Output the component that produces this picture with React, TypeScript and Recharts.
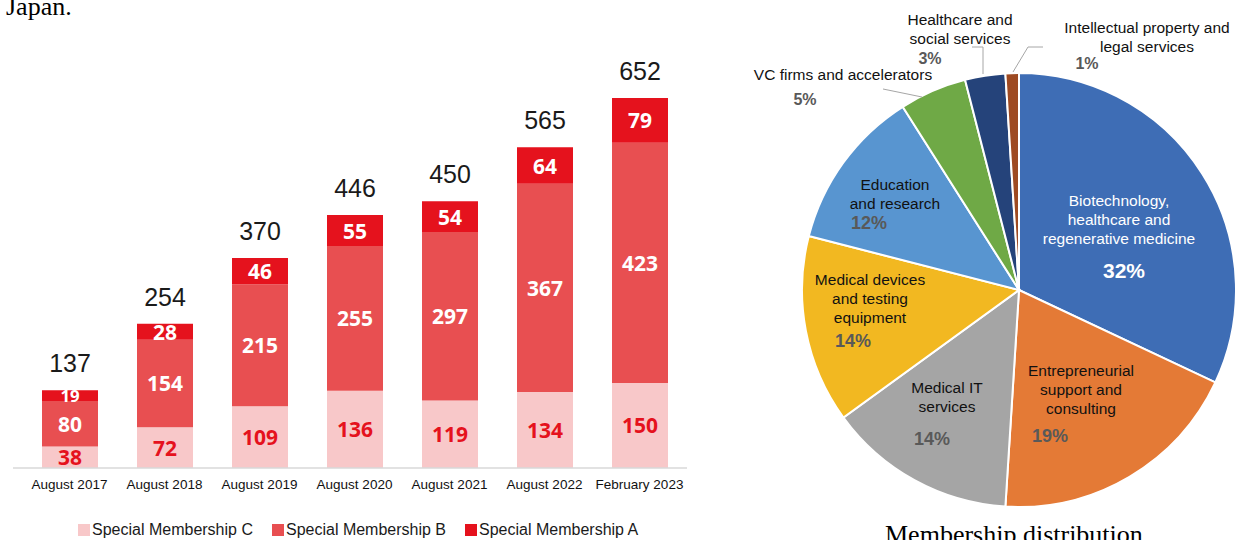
import React from "react";
import {
  BarChart,
  Bar,
  XAxis,
  YAxis,
  LabelList,
  PieChart,
  Pie,
  Cell,
} from "recharts";

// --- bar chart data ---
const PERIODS = [
  "August 2017",
  "August 2018",
  "August 2019",
  "August 2020",
  "August 2021",
  "August 2022",
  "February 2023",
];
const MEMBER_C = [38, 72, 109, 136, 119, 134, 150];
const MEMBER_B = [80, 154, 215, 255, 297, 367, 423];
const MEMBER_A = [19, 28, 46, 55, 54, 64, 79];
const TOTALS = [137, 254, 370, 446, 450, 565, 652];

// --- pie chart data ---
const SECTORS = [
  "Biotechnology,\nhealthcare and\nregenerative medicine",
  "Entrepreneurial\nsupport and\nconsulting",
  "Medical IT\nservices",
  "Medical devices\nand testing\nequipment",
  "Education\nand research",
  "VC firms and accelerators",
  "Healthcare and\nsocial services",
  "Intellectual property and\nlegal services",
];
const SHARES = [32, 19, 14, 14, 12, 5, 3, 1];

const BAR_COLORS = { c: "#F8C8C9", b: "#E84F51", a: "#E5121D" };
const PIE_COLORS = [
  "#3E6DB5",
  "#E47A36",
  "#A5A5A5",
  "#F2B821",
  "#5895D0",
  "#6FA946",
  "#25437A",
  "#9E4A22",
];

// label placement relative to pie centre (not data)
const PIE_LABEL_LAYOUT = [
  { nx: 100, ny: -90, px: 105, py: -20, fill: "#fff", pfill: "#fff", ps: 21 },
  { nx: 62, ny: 80, px: 31, py: 146, fill: "#111", pfill: "#595959", ps: 18 },
  { nx: -72, ny: 97, px: -87, py: 149, fill: "#111", pfill: "#595959", ps: 18 },
  { nx: -149, ny: -11, px: -166, py: 51, fill: "#111", pfill: "#595959", ps: 18 },
  { nx: -124, ny: -106, px: -150, py: -67, fill: "#111", pfill: "#595959", ps: 18 },
  { nx: -176, ny: -216, px: -214, py: -191, fill: "#111", pfill: "#595959", ps: 16,
    leader: [[-136, -201], [-97, -193]] },
  { nx: -59, ny: -271, px: -89, py: -232, fill: "#111", pfill: "#595959", ps: 16,
    leader: [[-47, -243], [-36, -243], [-36, -216]] },
  { nx: 128, ny: -263, px: 68, py: -227, fill: "#111", pfill: "#595959", ps: 16,
    leader: [[24, -243], [9, -243], [-6, -218]] },
];

const barData = PERIODS.map((period, i) => ({
  period,
  c: MEMBER_C[i],
  b: MEMBER_B[i],
  a: MEMBER_A[i],
  total: TOTALS[i],
}));

const pieData = SECTORS.map((name, i) => ({ name, value: SHARES[i] }));

/* eslint-disable @typescript-eslint/no-explicit-any */
const makeInnerLabel = (color: string) => (props: any) => {
  const { x, y, width, height, value } = props;
  const fs = Math.min(21, height + 6);
  return (
    <text
      x={x + width / 2}
      y={y + height / 2}
      textAnchor="middle"
      dominantBaseline="central"
      fill={color}
      fontFamily="'Noto Sans', sans-serif"
      fontWeight={700}
      fontSize={fs}
    >
      {value}
    </text>
  );
};

const renderPieLabel = (props: any) => {
  const { cx, cy, index } = props;
  const l = PIE_LABEL_LAYOUT[index];
  const lines = SECTORS[index].split("\n");
  return (
    <g key={`lbl-${index}`}>
      {l.leader && (
        <polyline
          points={l.leader.map(([dx, dy]) => `${cx + dx},${cy + dy}`).join(" ")}
          fill="none"
          stroke="#A6A6A6"
          strokeWidth={1}
        />
      )}
      <text
        textAnchor="middle"
        fill={l.fill}
        fontFamily="'Liberation Sans', Arial, sans-serif"
        fontSize={15.5}
      >
        {lines.map((ln, i) => (
          <tspan key={i} x={cx + l.nx} y={cy + l.ny + i * 19} dominantBaseline="central">
            {ln}
          </tspan>
        ))}
      </text>
      <text
        x={cx + l.px}
        y={cy + l.py}
        textAnchor="middle"
        dominantBaseline="central"
        fill={l.pfill}
        fontFamily="'Liberation Sans', Arial, sans-serif"
        fontWeight={700}
        fontSize={l.ps}
      >
        {SHARES[index]}%
      </text>
    </g>
  );
};
/* eslint-enable @typescript-eslint/no-explicit-any */

const LEGEND = [
  { label: "Special Membership C", color: BAR_COLORS.c },
  { label: "Special Membership B", color: BAR_COLORS.b },
  { label: "Special Membership A", color: BAR_COLORS.a },
];

export default function App() {
  return (
    <div
      style={{
        position: "fixed",
        left: 0,
        top: 0,
        width: 1235,
        height: 540,
        overflow: "hidden",
        background: "#fff",
      }}
    >
      <div
        style={{
          position: "absolute",
          left: 6,
          top: -6,
          fontFamily: "'Liberation Serif', 'Times New Roman', serif",
          fontSize: 26,
          lineHeight: "26px",
          color: "#000",
        }}
      >
        Japan.
      </div>

      <div style={{ position: "absolute", left: 0, top: 0 }}>
        <BarChart
          width={700}
          height={540}
          data={barData}
          margin={{ top: 98, right: 13, left: 13, bottom: 42 }}
        >
          <XAxis
            dataKey="period"
            height={30}
            padding={{ left: 9, right: 0 }}
            tickLine={false}
            tickMargin={5}
            axisLine={{ stroke: "#D9D9D9", strokeWidth: 1.5 }}
            interval={0}
            tick={{
              fontFamily: "'Liberation Sans', Arial, sans-serif",
              fontSize: 13.5,
              fill: "#111",
            }}
          />
          <YAxis hide domain={[0, 652]} />
          <Bar dataKey="c" stackId="m" fill={BAR_COLORS.c} barSize={56} isAnimationActive={false}>
            <LabelList dataKey="c" content={makeInnerLabel("#E5121D")} />
          </Bar>
          <Bar dataKey="b" stackId="m" fill={BAR_COLORS.b} barSize={56} isAnimationActive={false}>
            <LabelList dataKey="b" content={makeInnerLabel("#FFFFFF")} />
          </Bar>
          <Bar dataKey="a" stackId="m" fill={BAR_COLORS.a} barSize={56} isAnimationActive={false}>
            <LabelList dataKey="a" content={makeInnerLabel("#FFFFFF")} />
            <LabelList
              dataKey="total"
              position="top"
              offset={18}
              fill="#1A1A1A"
              fontFamily="'Liberation Sans', Arial, sans-serif"
              fontSize={25}
            />
          </Bar>
        </BarChart>
      </div>

      <div
        style={{
          position: "absolute",
          left: 78,
          top: 521,
          display: "flex",
          fontFamily: "'Liberation Sans', Arial, sans-serif",
          fontSize: 16,
          color: "#1A1A1A",
          lineHeight: "18px",
        }}
      >
        {LEGEND.map((it) => (
          <div key={it.label} style={{ display: "flex", alignItems: "center", marginRight: 19 }}>
            <span
              style={{
                display: "inline-block",
                width: 12,
                height: 12,
                background: it.color,
                marginRight: 2,
              }}
            />
            {it.label}
          </div>
        ))}
      </div>

      <div style={{ position: "absolute", left: 700, top: 0 }}>
        <PieChart width={535} height={540} margin={{ top: 0, right: 0, bottom: 0, left: 0 }}>
          <Pie
            data={pieData}
            dataKey="value"
            nameKey="name"
            cx={319}
            cy={290}
            outerRadius={217}
            startAngle={90}
            endAngle={-270}
            stroke="#FFFFFF"
            strokeWidth={2}
            label={renderPieLabel}
            labelLine={false}
            isAnimationActive={false}
          >
            {pieData.map((_, i) => (
              <Cell key={i} fill={PIE_COLORS[i]} />
            ))}
          </Pie>
        </PieChart>
      </div>

      <div
        style={{
          position: "absolute",
          left: 885,
          top: 522,
          fontFamily: "'Liberation Serif', 'Times New Roman', serif",
          fontSize: 26,
          lineHeight: "26px",
          color: "#000",
          whiteSpace: "nowrap",
        }}
      >
        Membership distribution
      </div>
    </div>
  );
}
